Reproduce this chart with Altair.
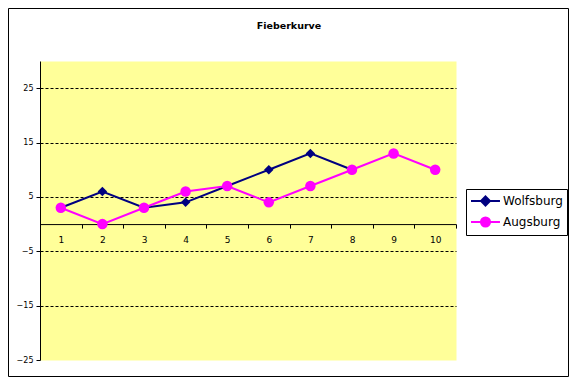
import altair as alt
import pandas as pd

# ---- data ----
categories = [1, 2, 3, 4, 5, 6, 7, 8, 9, 10]
series_names = ["Wolfsburg", "Augsburg"]
wolfsburg = [3, 6, 3, 4, 7, 10, 13, 10]
augsburg = [3, 0, 3, 6, 7, 4, 7, 10, 13, 10]
y_ticks = [-25, -15, -5, 5, 15, 25]
x_tick_values = [0.5, 1, 1.5, 2, 2.5, 3, 3.5, 4, 4.5, 5, 5.5, 6, 6.5, 7, 7.5, 8, 8.5, 9, 9.5, 10, 10.5]
colors = ["#000080", "#FF00FF"]
chart_title = "Fieberkurve"

rows = []
for c, v in zip(categories, wolfsburg):
    rows.append({"x": c, "value": v, "series": "Wolfsburg"})
for c, v in zip(categories, augsburg):
    rows.append({"x": c, "value": v, "series": "Augsburg"})
df = pd.DataFrame(rows)

W, H = 416, 299
PAD = {"left": 32, "top": 53, "right": 113, "bottom": 17}
zero_from_bottom = H * 25 / 55

FONT = "DejaVu Sans"

x_enc = alt.X(
    "x:Q",
    scale=alt.Scale(domain=[0.5, 10.5], nice=False, zero=False),
    axis=alt.Axis(
        values=x_tick_values,
        title=None,
        grid=False,
        offset=-zero_from_bottom,
        domainColor="black",
        domainWidth=1,
        tickColor="black",
        tickSize=4,
        tickOpacity={"condition": {"test": "datum.value % 1 !== 0", "value": 1}, "value": 0},
        labelExpr="datum.value % 1 === 0 ? toString(datum.value) : ''",
        labelFont=FONT,
        labelFontSize=9,
        labelColor="black",
        labelPadding=7,
        labelFlush=False,
        labelOverlap=False,
    ),
)

y_enc = alt.Y(
    "value:Q",
    scale=alt.Scale(domain=[-25, 30], nice=False, zero=False),
    axis=alt.Axis(
        values=y_ticks,
        title=None,
        grid=True,
        gridColor="black",
        gridDash=[3, 2],
        gridWidth=1,
        gridOpacity={"condition": {"test": "datum.value === -25", "value": 0}, "value": 1},
        domainColor="black",
        domainWidth=1,
        tickColor="black",
        tickSize=4,
        labelFont=FONT,
        labelFontSize=8,
        labelColor="black",
        labelPadding=3,
        labelFlush=False,
    ),
)

legend_shape = (
    "datum.value === 'Wolfsburg' ? "
    "'M-1,0H3.14M1.07,-0.64L1.71,0L1.07,0.64L0.43,0Z' : "
    "'M-1,0H3.14M1.72,0A0.65,0.65,0,1,1,0.42,0A0.65,0.65,0,1,1,1.72,0'"
)

color_enc = alt.Color(
    "series:N",
    scale=alt.Scale(domain=series_names, range=colors),
    legend=alt.Legend(
        title=None,
        orient="none",
        legendX=426,
        legendY=128,
        strokeColor="black",
        fillColor="white",
        padding=4,
        labelFont=FONT,
        labelFontSize=12,
        labelColor="black",
        labelOffset=17,
        symbolSize=196,
        rowPadding=3,
        symbolStrokeWidth=2,
        symbolOpacity=1,
        symbolType=alt.ExprRef(expr=legend_shape),
        symbolFillColor=alt.ExprRef(expr="scale('color', datum.value)"),
        symbolStrokeColor=alt.ExprRef(expr="scale('color', datum.value)"),
    ),
)

base = alt.Chart(df)

w_pts = base.transform_filter("datum.series === 'Wolfsburg'").mark_point(
    shape="diamond", filled=True, size=90, opacity=1
).encode(x=x_enc, y=y_enc, color=color_enc)
w_line = base.transform_filter("datum.series === 'Wolfsburg'").mark_line(strokeWidth=2).encode(
    x=x_enc, y=y_enc, color=color_enc
)
a_line = base.transform_filter("datum.series === 'Augsburg'").mark_line(strokeWidth=2).encode(
    x=x_enc, y=y_enc, color=color_enc
)
a_pts = base.transform_filter("datum.series === 'Augsburg'").mark_point(
    shape="circle", filled=True, size=110, opacity=1
).encode(x=x_enc, y=y_enc, color=color_enc)

border = alt.Chart(alt.Data(values=[{}])).mark_rect(
    filled=False, stroke="black", strokeWidth=1
).encode(
    x=alt.value(-PAD["left"] + 0.5),
    x2=alt.value(W + PAD["right"] - 0.5),
    y=alt.value(-PAD["top"] + 0.5),
    y2=alt.value(H + PAD["bottom"] - 0.5),
)

title_mark = alt.Chart(alt.Data(values=[{}])).mark_text(
    font=FONT, fontSize=9.5, fontWeight="bold", color="black", align="center", baseline="alphabetic"
).encode(
    x=alt.value(W / 2 + 41),
    y=alt.value(-32),
    text=alt.value(chart_title),
)

chart = (
    alt.layer(border, title_mark, w_line, w_pts, a_line, a_pts)
    .properties(
        width=W,
        height=H,
        padding=PAD,
        background="white",
        autosize=alt.AutoSizeParams(type="none"),
    )
    .configure_view(fill="#FFFF99", stroke="transparent")
)

chart.save("out.html", embed_options={"renderer": "svg", "actions": False})
